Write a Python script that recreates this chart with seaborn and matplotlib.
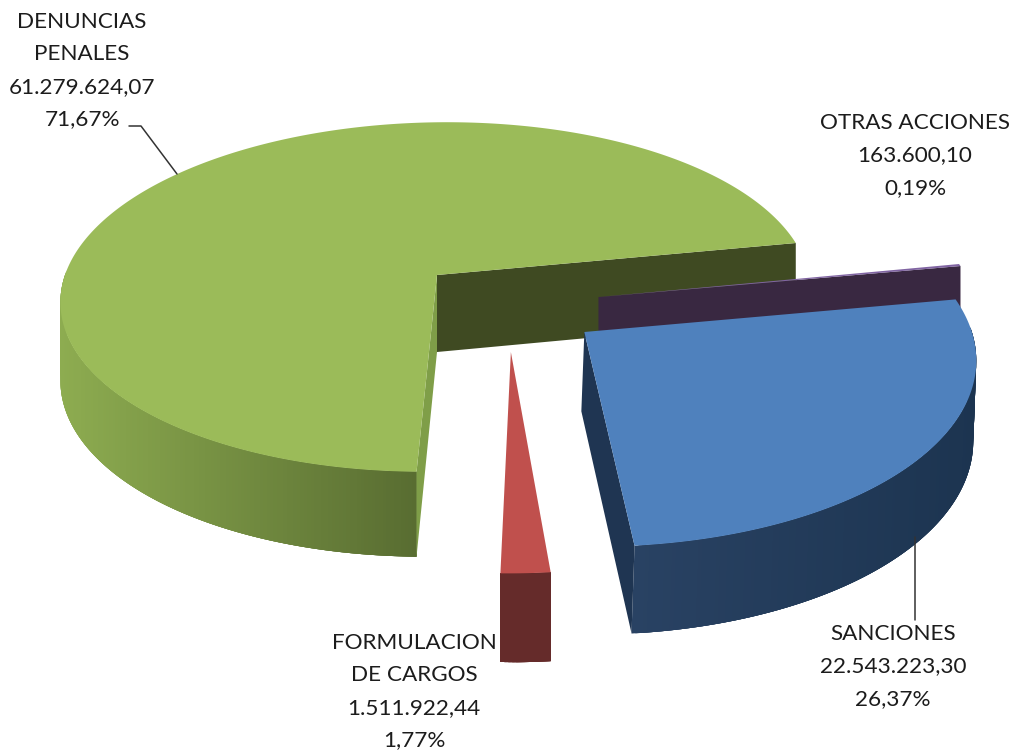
import numpy as np
import seaborn as sns
import matplotlib
matplotlib.use("Agg")
import matplotlib.pyplot as plt
from matplotlib.patches import Polygon

# datos
nombres = ["DENUNCIAS\nPENALES", "OTRAS ACCIONES", "SANCIONES", "FORMULACION\nDE CARGOS"]
valores = [61279624.07, 163600.10, 22543223.30, 1511922.44]

# estilo de cada sector
sup_col = ["#9bbb59", "#8064a2", "#4f81bd", "#c0504d"]
pared_izq = ["#8dac50", "#392841", "#294263", "#652b2a"]
pared_der = ["#586c31", "#392841", "#1c3450", "#652b2a"]
corte_a = ["#7f9e48", None, None, None]  # cara radial del lado de theta2
corte_b = ["#3f4a22", "#392841", "#1f3552", None]  # cara radial del lado de theta1
desplaza = [(0, 0), (0.431, -0.126), (0.390, -0.318), (0.201, -0.424)]
base_dx = [0, 0, -3, 0]
texto_x = [82, 915, 893, 414]
texto_y = [22, 123, 634, 643]

# proyeccion en perspectiva del disco
CX, CY = 437, 275
RX, RY = 372, 172
K = 0.1258
CIZALLA = 11.4
ALTO = 77


def proy(u, v, z=0, bx=0):
    s = 1 + K * v
    return CX + (RX * u + CIZALLA * v) / s + bx * z, CY - RY * v / s + ALTO * z / s ** 0.73


def es_num(v):
    return f"{v:,.2f}".replace(",", "#").replace(".", ",").replace("#", ".")


sns.set_theme(style="white")
plt.rcParams["font.family"] = ["Lato", "DejaVu Sans"]

fig, ax = plt.subplots(figsize=(10.13, 7.54), dpi=100)
fig.subplots_adjust(0, 0, 1, 1)

# pie solo para sacar los angulos de los sectores
wedges, _ = ax.pie(valores, startangle=269, counterclock=False)
angulos = [(w.theta1, w.theta2) for w in wedges]
for w in wedges:
    w.remove()

ax.set_aspect("auto")
ax.set_xlim(0, 1013)
ax.set_ylim(754, 0)
ax.axis("off")

zo = 2
for i, (t1, t2) in enumerate(angulos):
    dx, dy = desplaza[i]
    bx = base_dx[i]
    grados = np.append(np.arange(t1, t2, 0.5), t2)
    rad = np.radians(grados)
    us = dx + np.cos(rad)
    vs = dy + np.sin(rad)

    # pared exterior, solo la parte que mira al frente
    idx = np.where(np.sin(rad) < 0.03)[0]
    if len(idx) > 1:
        xs = np.array([proy(us[a], vs[a])[0] for a in idx])
        pal = sns.blend_palette([pared_izq[i], pared_der[i]], 200)
        frac = (xs - xs.min()) / (xs.max() - xs.min())
        orden = list(range(len(idx) - 1))
        if xs[0] > xs[-1]:
            orden = orden[::-1]
        # cada trozo pisa al siguiente para que no queden costuras
        for n in orden:
            a = idx[n]
            b = idx[min(n + 4, len(idx) - 1)] if xs[0] < xs[-1] else idx[max(n - 3, 0)]
            c = idx[n + 1] if xs[0] > xs[-1] else a
            col = pal[int(frac[n] * 199)]
            quad = [proy(us[c], vs[c]), proy(us[b], vs[b]), proy(us[b], vs[b], 1, bx), proy(us[c], vs[c], 1, bx)]
            ax.add_patch(Polygon(quad, fc=col, ec="none", zorder=zo))
    zo += 1

    # caras radiales
    if corte_a[i]:
        quad = [proy(dx, dy), proy(us[-1], vs[-1]), proy(us[-1], vs[-1], 1, bx), proy(dx, dy, 1, bx)]
        ax.add_patch(Polygon(quad, fc=corte_a[i], ec="none", zorder=zo))
    if corte_b[i]:
        quad = [proy(dx, dy), proy(us[0], vs[0]), proy(us[0], vs[0], 1, bx), proy(dx, dy, 1, bx)]
        ax.add_patch(Polygon(quad, fc=corte_b[i], ec="none", zorder=zo))
    zo += 1

    # cara superior
    cara = [proy(dx, dy)] + [proy(a, b) for a, b in zip(us, vs)]
    ax.add_patch(Polygon(cara, fc=sup_col[i], ec="none", zorder=zo))
    zo += 1

# etiquetas
total = sum(valores)
for i, nom in enumerate(nombres):
    pct = f"{valores[i] / total * 100:.2f}".replace(".", ",") + "%"
    lineas = nom.split("\n") + [es_num(valores[i]), pct]
    for j, txt in enumerate(lineas):
        ax.text(texto_x[i], texto_y[i] + j * 32.4, txt, ha="center", va="center",
                fontsize=16.2, color="#1c1c1c", zorder=50)

# lineas guia
ax.plot([129, 141, 177], [126, 126, 174], color="#333333", lw=1.1, zorder=40)
ax.plot([915, 915], [537, 620], color="#333333", lw=1.1, zorder=40)

fig.savefig("out.png", dpi=100)
